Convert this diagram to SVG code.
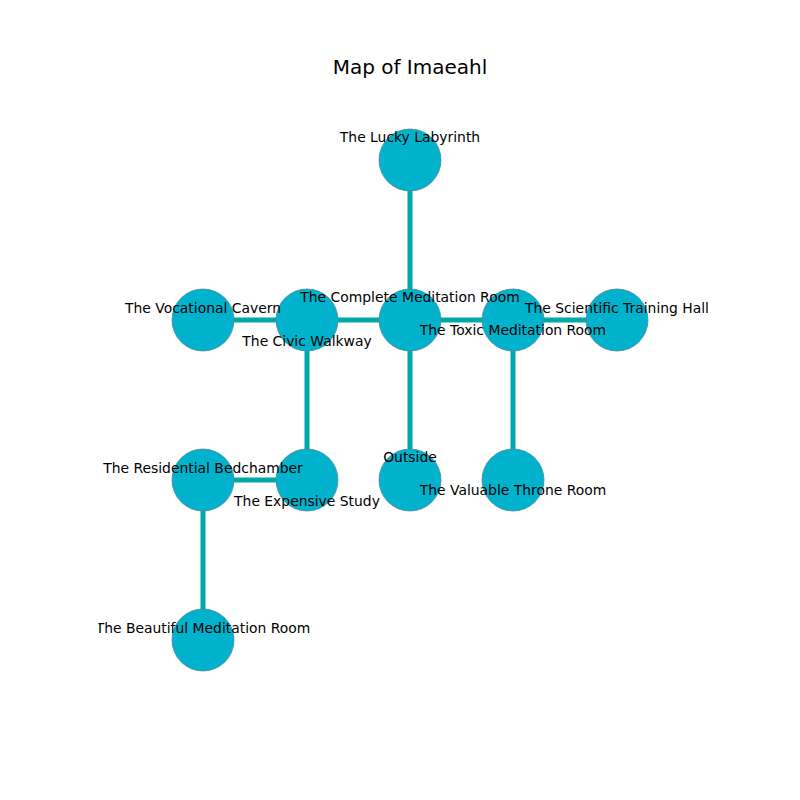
<svg xmlns="http://www.w3.org/2000/svg" width="800" height="800" viewBox="0 0 800 800">
<style>
.edge{stroke:#00a8a8;stroke-width:5;fill:none}
.node circle{fill:#00b2cc;stroke:#4d8a99;stroke-width:0.8}
text{font-family:"DejaVu Sans",sans-serif;font-size:13.9px;fill:#000;text-anchor:middle}
.title{font-size:20px}
</style>
<defs>
<clipPath id="axes"><rect x="98.5" y="90" width="620" height="620"/></clipPath>
</defs>
<rect width="800" height="800" fill="#fff"/>
<text class="title" x="410" y="74">Map of Imaeahl</text>
<g id="connectors">
<line class="edge" x1="410" y1="160" x2="410" y2="320"/>
<line class="edge" x1="203" y1="320" x2="307" y2="320"/>
<line class="edge" x1="307" y1="320" x2="410" y2="320"/>
<line class="edge" x1="410" y1="320" x2="513" y2="320"/>
<line class="edge" x1="513" y1="320" x2="617" y2="320"/>
<line class="edge" x1="307" y1="320" x2="307" y2="480"/>
<line class="edge" x1="410" y1="320" x2="410" y2="480"/>
<line class="edge" x1="513" y1="320" x2="513" y2="480"/>
<line class="edge" x1="203" y1="480" x2="307" y2="480"/>
<line class="edge" x1="203" y1="480" x2="203" y2="640"/>
</g>
<g id="n-lucky" class="node"><circle cx="410" cy="160" r="31"/></g>
<g id="n-vocational" class="node"><circle cx="203" cy="320" r="31"/></g>
<g id="n-civic" class="node"><circle cx="307" cy="320" r="31"/></g>
<g id="n-complete" class="node"><circle cx="410" cy="320" r="31"/></g>
<g id="n-toxic" class="node"><circle cx="513" cy="320" r="31"/></g>
<g id="n-scientific" class="node"><circle cx="617" cy="320" r="31"/></g>
<g id="n-residential" class="node"><circle cx="203" cy="480" r="31"/></g>
<g id="n-expensive" class="node"><circle cx="307" cy="480" r="31"/></g>
<g id="n-outside" class="node"><circle cx="410" cy="480" r="31"/></g>
<g id="n-valuable" class="node"><circle cx="513" cy="480" r="31"/></g>
<g id="n-beautiful" class="node"><circle cx="203" cy="640" r="31"/></g>
<g id="labels">
<text x="410" y="142">The Lucky Labyrinth</text>
<text x="203" y="313">The Vocational Cavern</text>
<text x="410" y="302">The Complete Meditation Room</text>
<text x="307" y="346">The Civic Walkway</text>
<text x="513" y="335">The Toxic Meditation Room</text>
<text x="617" y="313">The Scientific Training Hall</text>
<text x="203" y="473">The Residential Bedchamber</text>
<text x="307" y="506">The Expensive Study</text>
<text x="410" y="462">Outside</text>
<text x="513" y="495">The Valuable Throne Room</text>
<text x="203" y="633" clip-path="url(#axes)">The Beautiful Meditation Room</text>
</g>
</svg>
